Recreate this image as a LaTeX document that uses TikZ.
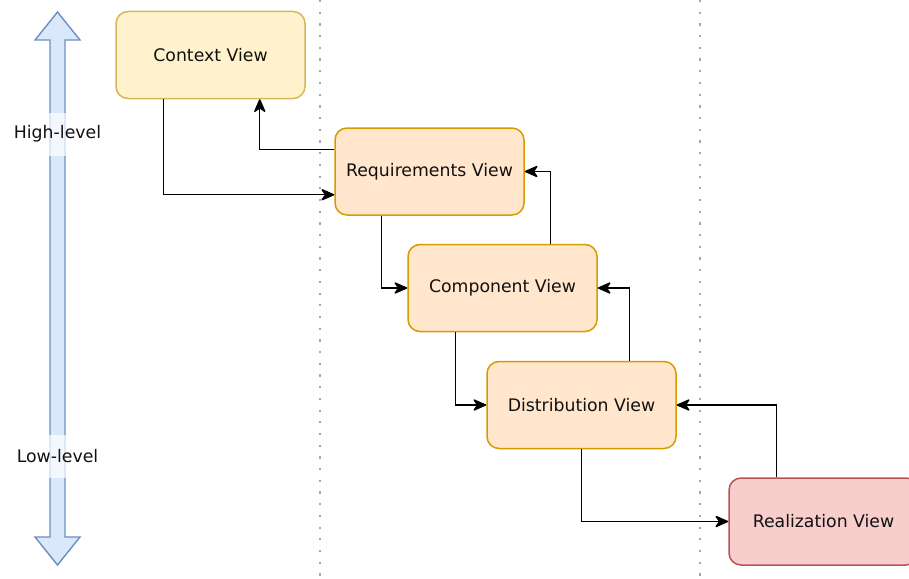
\documentclass[tikz,border=0pt]{standalone}
\usepackage{fontspec}
\setmainfont{DejaVu Sans}
\usepackage{xcolor}
\usepackage{tikz}
\usetikzlibrary{arrows.meta}
\definecolor{yelfill}{HTML}{FFF2CC}
\definecolor{yeldraw}{HTML}{D6B656}
\definecolor{orfill}{HTML}{FFE6CC}
\definecolor{ordraw}{HTML}{D79B00}
\definecolor{redfill}{HTML}{F8CECC}
\definecolor{reddraw}{HTML}{B85450}
\definecolor{bluefill}{HTML}{DAE8FC}
\definecolor{bluedraw}{HTML}{6C8EBF}
\definecolor{txt}{HTML}{111111}
\tikzset{
	view/.style={rounded corners=12pt,line width=1.5pt,minimum width=189pt,minimum height=87pt,text=txt},
	flow/.style={line width=1.4pt,-{Stealth[length=15pt,width=13pt,inset=4.5pt,round]}},
	divider/.style={line width=2.2pt,gray!70,dash pattern=on 2.2pt off 9.5pt}
}

\begin{document}
\begin{tikzpicture}[x=1pt,y=1pt,font=\fontsize{17.3}{20}\selectfont]
	\useasboundingbox (0,0) rectangle (909,-578);
	% Dividers between the levels
	\draw [divider] (320,0) -- (320,-578);
	\draw [divider] (700,0) -- (700,-578);

	% High/low level double arrow
	\draw [line width=1.4pt,draw=bluedraw,fill=bluefill]
		(57.5,-12) -- (80,-40) -- (65,-40) -- (65,-537) -- (80,-537) -- (57.5,-565)
		-- (35,-537) -- (50,-537) -- (50,-40) -- (35,-40) -- cycle;
	\node (hi) [fill=white,fill opacity=0.7,text opacity=1,text=txt,inner xsep=1pt,minimum height=43pt] at (57.5,-134) {High-level};
	\node (lo) [fill=white,fill opacity=0.7,text opacity=1,text=txt,inner xsep=1pt,minimum height=43pt] at (57.5,-456) {Low-level};

	% Views
	\node (ctx)  [view,draw=yeldraw,fill=yelfill] at (210.5,-55)   {Context View};
	\node (req)  [view,draw=ordraw,fill=orfill]   at (429.5,-171.5) {Requirements View};
	\node (comp) [view,draw=ordraw,fill=orfill]   at (502.5,-288)  {Component View};
	\node (dist) [view,draw=ordraw,fill=orfill]   at (581.5,-405)  {Distribution View};
	\node (real) [view,draw=reddraw,fill=redfill] at (823.5,-521.5) {Realization View};

	% Downwards
	\draw [flow] ([xshift=48pt]ctx.south west) |- ([yshift=21pt]req.south west);
	\draw [flow] ([xshift=47pt]req.south west) |- (comp.west);
	\draw [flow] ([xshift=48pt]comp.south west) |- (dist.west);
	\draw [flow] (dist.south) |- (real.west);
	% Upwards
	\draw [flow] ([yshift=-22pt]req.north west) -| ([xshift=-46pt]ctx.south east);
	\draw [flow] ([xshift=-47pt]comp.north east) |- (req.east);
	\draw [flow] ([xshift=-47pt]dist.north east) |- (comp.east);
	\draw [flow] ([xshift=48pt]real.north west) |- (dist.east);
\end{tikzpicture}
\end{document}
